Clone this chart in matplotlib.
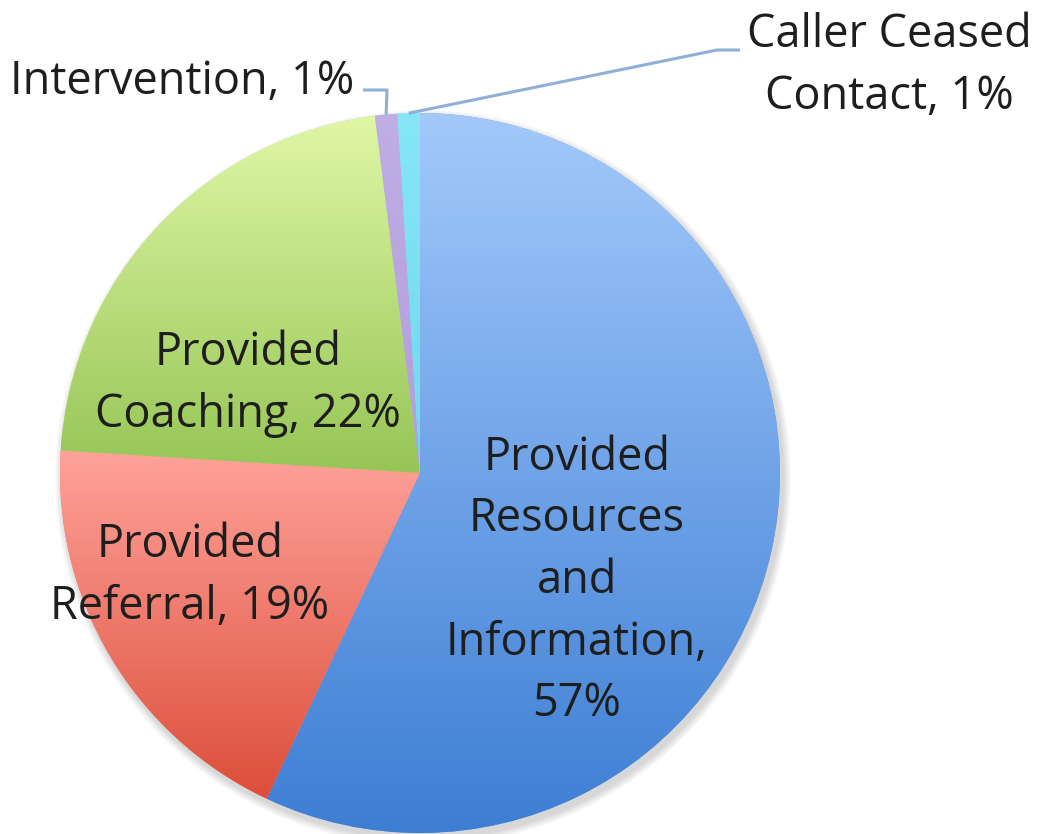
import numpy as np
import matplotlib.pyplot as plt
from matplotlib.colors import to_rgb
from matplotlib.patches import Circle

# data, clockwise from 12 o'clock
categories = ["Provided Resources and Information", "Provided Referral",
              "Provided Coaching", "Intervention", "Caller Ceased Contact"]
values = [57, 19, 22, 1, 1]
label_texts = ["Provided\nResources\nand\nInformation,\n57%",
               "Provided\nReferral, 19%",
               "Provided\nCoaching, 22%",
               "Intervention, 1%",
               "Caller Ceased\nContact, 1%"]

# gradient colours per slice (top, bottom)
grad_top = ["#a3c9fb", "#ffa29a", "#e0f7a6", "#c0aee6", "#86e6f8"]
grad_bot = ["#3d7ed4", "#dc4e3a", "#96c556", "#b09ddc", "#6fd8f0"]

plt.rcParams['font.family'] = ['Open Sans', 'DejaVu Sans']
W, H = 1042, 834

fig = plt.figure(figsize=(W / 100, H / 100), dpi=100)
ax = fig.add_axes([0, 0, 1, 1])

cx, cy, R = 420, H - 473, 360

# soft drop shadow
for k in range(8):
    ax.add_patch(Circle((cx + 3, cy - 5), R + 1 + k, facecolor='#000000',
                        alpha=0.018, linewidth=0, zorder=0))

wedges, _ = ax.pie(values, startangle=90, counterclock=False, radius=R,
                   center=(cx, cy), wedgeprops=dict(linewidth=0))
ax.set_xlim(0, W)
ax.set_ylim(0, H)
ax.set_aspect('equal')
ax.axis('off')

for w, ct, cb in zip(wedges, grad_top, grad_bot):
    ext = w.get_path().get_extents()
    t = np.linspace(0, 1, 256)[:, None]
    c0 = np.array(to_rgb(ct))
    c1 = np.array(to_rgb(cb))
    img = (c0[None, :] * (1 - t) + c1[None, :] * t)[:, None, :]
    w.set_facecolor(tuple((c0 + c1) / 2))
    w.set_zorder(1)
    im = ax.imshow(img, extent=[ext.x0, ext.x1, ext.y0, ext.y1], origin='upper',
                   aspect='auto', interpolation='bilinear', zorder=2)
    im.set_clip_path(w)
ax.set_xlim(0, W)
ax.set_ylim(0, H)

txt = dict(fontsize=32.5, color='#1e1e1e', ha='center', va='center',
           linespacing=1.45, zorder=5)

ax.text(577, H - 581, label_texts[0], **txt)
ax.text(190, H - 576, label_texts[1], **txt)
ax.text(248, H - 384, label_texts[2], **txt)
ax.text(182, H - 82, label_texts[3], **txt)
ax.text(889, H - 66, label_texts[4], **txt)

# leader lines from the small slices
line_col = '#8eafd6'
for i, end in [(3, [(387, 90), (363, 90)]), (4, [(717, 50), (740, 50)])]:
    w = wedges[i]
    mid = np.deg2rad((w.theta1 + w.theta2) / 2)
    xs = [cx + R * np.cos(mid)] + [p[0] for p in end]
    ys = [cy + R * np.sin(mid)] + [H - p[1] for p in end]
    ax.plot(xs, ys, color=line_col, linewidth=2.2, zorder=4,
            solid_capstyle='butt')

fig.savefig('out.png', dpi=100, facecolor='white')
